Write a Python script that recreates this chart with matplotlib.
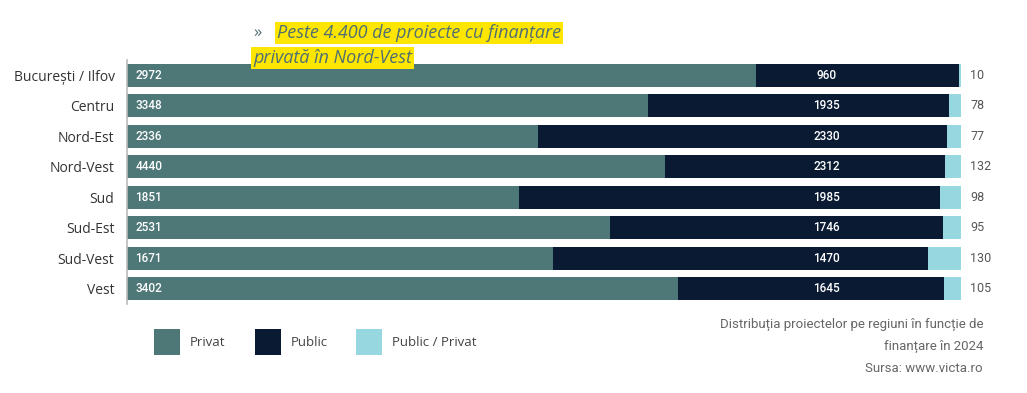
import matplotlib
matplotlib.use("Agg")
import matplotlib.pyplot as plt
from matplotlib.patches import Rectangle
import numpy as np

regions = ["București / Ilfov", "Centru", "Nord-Est", "Nord-Vest", "Sud", "Sud-Est", "Sud-Vest", "Vest"]
privat = [2972, 3348, 2336, 4440, 1851, 2531, 1671, 3402]
public = [960, 1935, 2330, 2312, 1985, 1746, 1470, 1645]
public_privat = [10, 78, 77, 132, 98, 95, 130, 105]
series_names = ["Privat", "Public", "Public / Privat"]
colors = ["#4e7778", "#0a1a33", "#97d7e0"]

plt.rcParams['font.family'] = ['Open Sans', 'DejaVu Sans']

fig = plt.figure(figsize=(10.27, 3.93), dpi=100)
W, H = 1027, 393
ax = fig.add_axes([127 / W, 1 - 304 / H, 834 / W, 244 / H])

p = np.array(privat, float)
u = np.array(public, float)
pp = np.array(public_privat, float)
tot = p + u + pp
y = np.arange(len(regions))
bh = 0.75
ax.barh(y, p / tot, height=bh, color=colors[0], left=0)
ax.barh(y, u / tot, height=bh, color=colors[1], left=p / tot)
ax.barh(y, pp / tot, height=bh, color=colors[2], left=(p + u) / tot)

for i in range(len(regions)):
    ax.text(0.010, y[i], str(privat[i]), color="white", fontsize=8.5, va="center", ha="left",
            family=['Roboto', 'DejaVu Sans'], fontweight="medium")
    ax.text(0.839, y[i], str(public[i]), color="white", fontsize=8.5, va="center", ha="center",
            family=['Roboto', 'DejaVu Sans'], fontweight="medium")
    ax.text(1.011, y[i], str(public_privat[i]), color="#555555", fontsize=9, va="center", ha="left",
            transform=ax.get_yaxis_transform(), family=['Roboto', 'DejaVu Sans'])

ax.set_xlim(0, 1)
ax.set_ylim(len(regions) - 0.5, -0.5)
ax.set_yticks(y)
ax.set_yticklabels(regions, fontsize=10, color="#333333")
ax.tick_params(axis="y", length=0, pad=9)
ax.set_xticks([])
for s in ["top", "right", "bottom"]:
    ax.spines[s].set_visible(False)
ax.spines["left"].set_color("#bbbbbb")
ax.spines["left"].set_linewidth(1.2)

# Title with yellow highlight
title_color = "#4f6f73"
fig.text(253 / W, 1 - 33 / H, "»", fontsize=12, color=title_color, va="center", ha="left")
fig.text(277 / W, 1 - 33 / H, "Peste 4.400 de proiecte cu finanțare", fontsize=13, style="italic",
         color=title_color, va="center", ha="left",
         bbox=dict(boxstyle="square,pad=0.12", facecolor="#ffe600", edgecolor="none"))
fig.text(253 / W, 1 - 58 / H, "privată în Nord-Vest", fontsize=13, style="italic",
         color=title_color, va="center", ha="left",
         bbox=dict(boxstyle="square,pad=0.12", facecolor="#ffe600", edgecolor="none"))

# Legend
leg_x = [154, 255, 356]
for k, name in enumerate(series_names):
    fig.patches.append(Rectangle((leg_x[k] / W, 1 - 355 / H), 26 / W, 26 / H,
                                 transform=fig.transFigure, facecolor=colors[k], edgecolor="none"))
    fig.text((leg_x[k] + 36) / W, 1 - 342 / H, name, fontsize=9.5, color="#444444",
             va="center", ha="left")

# Caption
cap_color = "#666666"
cap_font = ['Roboto', 'DejaVu Sans']
fig.text(983 / W, 1 - 324 / H, "Distribuția proiectelor pe regiuni în funcție de", fontsize=9.5,
         color=cap_color, ha="right", va="center", family=cap_font)
fig.text(983 / W, 1 - 346 / H, "finanțare în 2024", fontsize=9.5,
         color=cap_color, ha="right", va="center", family=cap_font)
fig.text(983 / W, 1 - 368 / H, "Sursa: www.victa.ro", fontsize=9.5,
         color=cap_color, ha="right", va="center", family=cap_font)

fig.savefig("out.png", dpi=100)
